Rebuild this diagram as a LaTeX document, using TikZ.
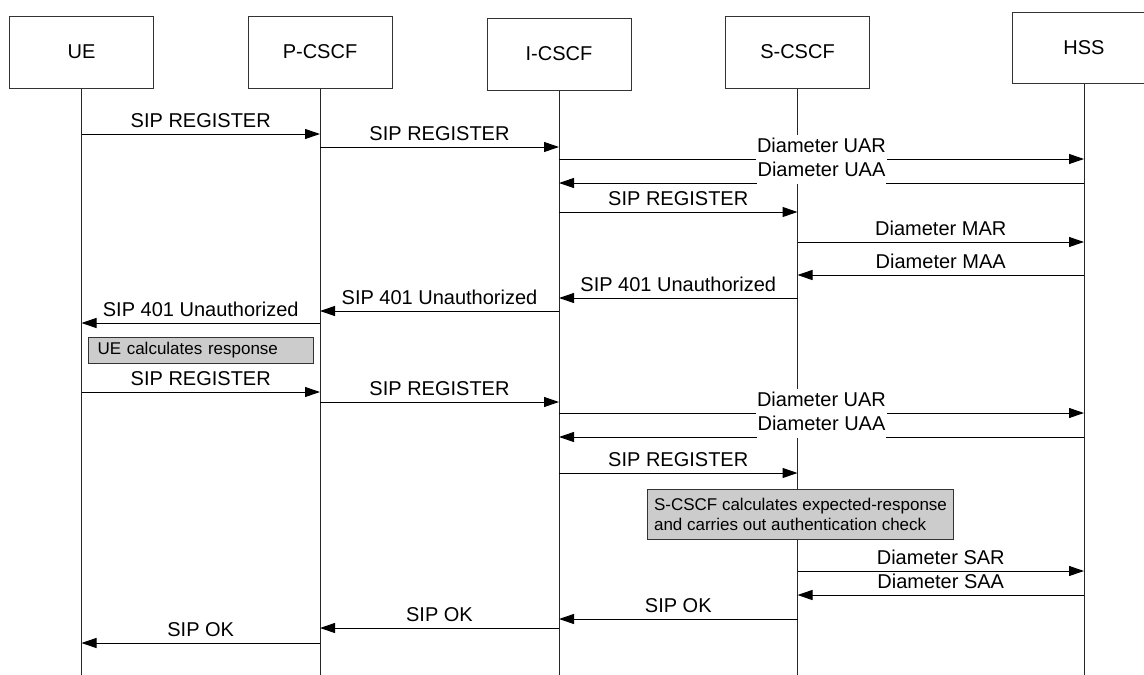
\documentclass[tikz,border=0pt]{standalone}
\usepackage{fontspec}
\setmainfont{Liberation Sans}
\usetikzlibrary{arrows.meta}
\newcommand{\sqmsg}[5][lbl]{%
  \draw[msg] (#2.south |- 0,#4) -- node[#1, midway, yshift=6.5pt] {#5} (#3.south |- 0,#4);}
\begin{document}
\begin{tikzpicture}[x=1pt,y=-1pt,
  ent/.style={draw=black!80, line width=1pt, minimum width=144pt, minimum height=72pt, inner sep=0pt, font=\fontsize{20}{24}\selectfont},
  life/.style={draw=black!85, line width=1pt},
  msg/.style={draw=black, line width=1pt, -{Triangle[length=15pt,width=10pt]}},
  lbl/.style={anchor=base, inner sep=0pt, font=\fontsize{20}{24}\selectfont},
  wlbl/.style={lbl, fill=white, text height=18pt, text depth=7.5pt, inner xsep=1pt},
  note/.style={draw=black!80, fill=black!20, line width=1pt, font=\fontsize{17}{20}\selectfont, align=left, anchor=north west, inner ysep=0pt}
]
\useasboundingbox (0,0) rectangle (1144,675);
\clip (0,0) rectangle (1144,675);
% entities
\node[ent] (ue) at (81.5,52) {UE};
\node[ent] (pc) at (320,52) {P-CSCF};
\node[ent] (ic) at (559,54) {I-CSCF};
\node[ent] (sc) at (797.5,52) {S-CSCF};
\node[ent, minimum height=71pt] (hss) at (1084,47.5) {HSS};
% lifeline ends
\coordinate (ueE) at (ue.south |- 0,675);
\coordinate (pcE) at (pc.south |- 0,675);
\coordinate (icE) at (ic.south |- 0,675);
\coordinate (scE) at (sc.south |- 0,675);
\coordinate (hssE) at (hss.south |- 0,675);
\draw[life] (ue.south) -- (ueE);
\draw[life] (pc.south) -- (pcE);
\draw[life] (ic.south) -- (icE);
\draw[life] (sc.south) -- (scE);
\draw[life] (hss.south) -- (hssE);
% messages
\sqmsg{ue}{pc}{134}{SIP REGISTER}
\sqmsg{pc}{ic}{147}{SIP REGISTER}
\sqmsg[wlbl]{ic}{hss}{159}{Diameter UAR}
\sqmsg[wlbl]{hss}{ic}{183}{Diameter UAA}
\sqmsg{ic}{sc}{212}{SIP REGISTER}
\sqmsg{sc}{hss}{242}{Diameter MAR}
\sqmsg{hss}{sc}{275}{Diameter MAA}
\sqmsg{sc}{ic}{298}{SIP 401 Unauthorized}
\sqmsg{ic}{pc}{311}{SIP 401 Unauthorized}
\sqmsg{pc}{ue}{323}{SIP 401 Unauthorized}
\node[note, inner xsep=9pt, text width=207pt, minimum height=26pt] (n1) at (88,337) {UE calculates response};
\sqmsg{ue}{pc}{392}{SIP REGISTER}
\sqmsg{pc}{ic}{402}{SIP REGISTER}
\sqmsg[wlbl]{ic}{hss}{413}{Diameter UAR}
\sqmsg[wlbl]{hss}{ic}{437}{Diameter UAA}
\sqmsg{ic}{sc}{473}{SIP REGISTER}
\node[note, inner xsep=6pt, minimum width=306pt, minimum height=50pt] (n2) at (647,489) {S-CSCF calculates expected-response\\and carries out authentication check};
\sqmsg{sc}{hss}{571}{Diameter SAR}
\sqmsg{hss}{sc}{595}{Diameter SAA}
\sqmsg{sc}{ic}{619}{SIP OK}
\sqmsg{ic}{pc}{628}{SIP OK}
\sqmsg{pc}{ue}{643}{SIP OK}
\end{tikzpicture}
\end{document}
